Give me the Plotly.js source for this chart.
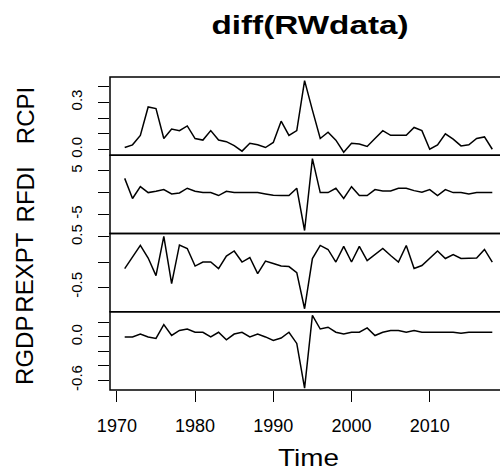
<!DOCTYPE html>
<html>
<head>
<meta charset="utf-8">
<script src="https://cdn.plot.ly/plotly-3.0.1.min.js"></script>
<style>
html,body{margin:0;padding:0;overflow:hidden;background:#fff;}
#chart{width:507px;height:471px;}
</style>
</head>
<body>
<div id="chart"></div>
<script>
const years = [];
for (let y = 1971; y <= 2018; y++) years.push(y);

const RCPI = [0.013,0.03,0.09,0.27,0.26,0.07,0.13,0.12,0.15,0.07,
  0.06,0.12,0.06,0.05,0.025,-0.01,0.04,0.03,0.013,0.045,
  0.18,0.09,0.12,0.437,0.25,0.07,0.11,0.06,-0.017,0.04,
  0.035,0.02,0.07,0.12,0.09,0.09,0.09,0.14,0.12,0.002,
  0.03,0.10,0.066,0.023,0.03,0.07,0.08,0.002];

const RFDI = [3.26,-1.36,1.36,0,0.3,0.68,-0.3,-0.08,1.0,0.3,
  0,0,-0.68,0.3,0,0,0,0,-0.3,-0.6,
  -0.68,-0.68,1.0,-8.7,7.8,0,0,1.0,-1.36,1.36,
  -0.68,-0.68,0.68,0.38,0.38,1.0,1.0,0.45,0.08,0.68,
  -0.68,0.68,0,0,-0.3,0,0,0];

const REXPT = [-0.13,0.1,0.33,0.08,-0.27,0.51,-0.43,0.34,0.27,-0.08,
  0,0,-0.13,0.12,0.22,0,0.09,-0.23,0.02,-0.03,
  -0.08,-0.09,-0.21,-0.93,0.07,0.33,0.25,0,0.31,0,
  0.31,0.03,0.15,0.27,0.13,0,0.33,-0.13,-0.07,0.08,
  0.22,0.07,0.15,0.07,0.07,0.08,0.25,0];

const RGDP = [0,0,0.04,0,-0.02,0.17,0.02,0.09,0.11,0.065,
  0.065,0,0.065,-0.04,0.04,0.065,0,0.04,0,-0.05,
  -0.015,0.065,-0.09,-0.71,0.30,0.11,0.135,0.065,0.04,0.065,
  0.065,0.125,0.02,0.065,0.09,0.09,0.065,0.09,0.065,0.065,
  0.065,0.065,0.065,0.05,0.065,0.065,0.065,0.065];

const seriesNames = ["RCPI","RFDI","REXPT","RGDP"];
const seriesData = [RCPI, RFDI, REXPT, RGDP];
const yRanges = [[-0.036,0.46],[-9.39,8.57],[-0.99,0.568],[-0.735,0.349]];
const yTickVals = [[0,0.1,0.2,0.3,0.4],[-5,0,5],[-0.5,0,0.5],[-0.6,-0.4,-0.2,0,0.2]];
const yTickText = [["0.0","","","0.3",""],["-5","","5"],["-0.5","","0.5"],["-0.6","","","0.0",""]];
const xTickVals = [1970,1980,1990,2000,2010];

const domains = [[0.75,1],[0.5,0.75],[0.25,0.5],[0,0.25]];
const font = "Liberation Sans, Arial, Helvetica, sans-serif";

const traces = seriesData.map((d,i)=>({
  x: years, y: d, type:"scatter", mode:"lines",
  line:{color:"#000", width:1.5},
  xaxis:"x", yaxis: i===0 ? "y" : "y"+(i+1),
  hoverinfo:"skip", showlegend:false
}));

const layout = {
  width:507, height:471,
  margin:{l:110, r:0, t:77, b:81},
  paper_bgcolor:"#fff", plot_bgcolor:"#fff",
  font:{family:font, color:"#000"},
  showlegend:false,
  title:{text:"<b>diff(RWdata)</b>", x:310/507, xanchor:"center", y:1-25/471, yanchor:"middle",
    font:{size:26, family:font, color:"#000"}},
  xaxis:{range:[1969.12,2019.88], anchor:"y4", tickvals:xTickVals, ticktext:xTickVals.map(String),
    ticks:"outside", ticklen:11, tickwidth:1, tickcolor:"#000",
    showgrid:false, zeroline:false, showline:false,
    tickfont:{size:18, family:font}, ticklabelstandoff:8,
    title:{text:"Time", font:{size:24, family:font}, standoff:16}},
  shapes:[], annotations:[]
};

seriesNames.forEach((name,i)=>{
  const key = i===0 ? "yaxis" : "yaxis"+(i+1);
  layout[key] = {
    domain: domains[i], range: yRanges[i], anchor:"x",
    tickvals: yTickVals[i], ticktext: yTickText[i],
    ticks:"outside", ticklen:11, tickwidth:1, tickcolor:"#000",
    showgrid:false, zeroline:false, showline:false,
    tickangle:-90, tickfont:{size:15, family:font}, ticklabelstandoff:10
  };
  layout.shapes.push({type:"rect", xref:"paper", yref:"paper", x0:0, x1:1,
    y0:domains[i][0], y1:domains[i][1], line:{color:"#000", width:1.5}});
  layout.annotations.push({text:name, xref:"paper", yref:"paper",
    x:-85/397, xanchor:"center", y:(domains[i][0]+domains[i][1])/2, yanchor:"middle",
    textangle:-90, showarrow:false, font:{size:24, family:font, color:"#000"}});
});

function widen(sel, s){
  document.querySelectorAll(sel).forEach(el=>{
    const x = parseFloat(el.getAttribute("x")) || 0;
    const t = el.getAttribute("transform") || "";
    el.setAttribute("transform", t + " translate(" + x + ",0) scale(" + s + ",1) translate(" + (-x) + ",0)");
  });
}

Plotly.newPlot("chart", traces, layout, {displayModeBar:false, staticPlot:true}).then(()=>{
  widen(".gtitle", 1.28);
  widen(".xtitle", 1.16);
});
</script>
</body>
</html>
